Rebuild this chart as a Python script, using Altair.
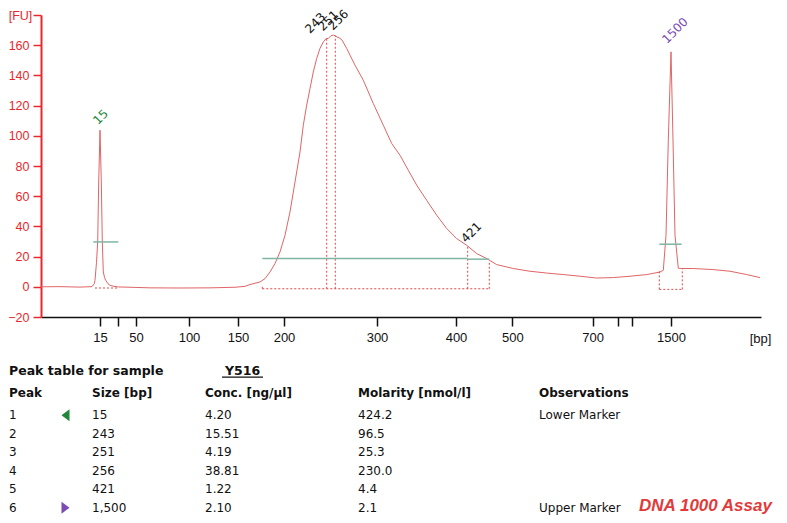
import json
import altair as alt
import pandas as pd

# ---------------- electropherogram trace (migration position, fluorescence [FU]) ----------------
trace_t = [0, 19, 39, 51, 53.3, 54, 55.5, 56.7, 57.7, 59, 60.3, 61.3, 62.3, 63.5, 64.7, 67, 69, 73, 77.3,
           89, 109, 139, 169, 194, 204, 209, 219, 224, 229, 234, 239, 244, 249, 254, 259, 262.3, 265.7,
           269, 272.3, 275.7, 279, 282.3, 285, 287.3, 290, 292.3, 294, 296, 299, 301, 305.7, 309, 314,
           322.3, 332.3, 342.3, 350.7, 359, 367.3, 375.7, 385.7, 395.7, 405.7, 415.7, 425.7, 435.7,
           445.7, 455.7, 472.3, 489, 505.7, 522.3, 539, 555.7, 572.3, 589, 605.7, 619, 622.3, 625,
           627.3, 630, 632, 634, 637.3, 640.7, 652.3, 672.3, 689, 705.7, 719]
trace_fu = [0.0, 0.1, -0.2, 0.1, 2.1, 4.3, 16.2, 29.7, 69.4, 103.7, 69.4, 29.7, 9.8, 6.3, 4.3, 2.0, 1.0, 0.3, -0.1,
            -0.3, -0.7, -0.8, -0.7, -0.3, 0.3, 1.5, 3.2, 5.4, 9.8, 15.4, 23.1, 34.1, 49.6, 69.4, 89.3, 107.0, 120.3,
            131.3, 142.3, 151.2, 157.9, 162.2, 164.3, 164.5, 166.3, 166.7, 166.3, 165.5, 164.5, 163.4, 157.9, 153.4, 146.8,
            136.8, 121.4, 107.0, 94.9, 87.1, 77.2, 67.3, 57.3, 47.4, 38.6, 31.9, 27.5, 22.0,
            18.7, 14.7, 12.1, 10.3, 9.1, 8.1, 7.0, 5.8, 6.1, 7.0, 8.1, 9.8, 10.9, 34.1,
            97.1, 155.6, 97.1, 34.1, 12.3, 12.1, 12.1, 11.4, 10.3, 8.1, 6.1]

# x-axis ticks (migration positions) and their size labels [bp]
tick_t = [59, 77.3, 95, 148, 197, 243, 336, 415, 471.3, 551.7, 577.3, 591.3, 630]
tick_bp = ["15", "", "50", "100", "150", "200", "300", "400", "500", "700", "", "", "1500"]
fu_ticks = [-20, 0, 20, 40, 60, 80, 100, 120, 140, 160, 180]

# peak labels on the trace
peak_label = ["15", "243", "251", "256", "421", "1500"]
peak_kind = ["lower", "sample", "sample", "sample", "sample", "upper"]
peak_label_t = [57, 269, 282, 292, 425, 626]
peak_label_fu = [107.0, 167.5, 169.0, 169.6, 28.8, 160.7]

# dotted peak lines (apex down to baseline)
apex_t = [285.7, 294.3, 426.7]
apex_fu = [164.4, 166.3, 26.8]
apex_base = [-1.3, -1.3, -1.3]
# dotted region baselines
region_start = [54, 221.3, 618.3]
region_end = [77.3, 448.3, 641.3]
region_base = [-0.8, -1.3, -1.7]
# dotted region edges
edge_t = [221.3, 448.3, 618.3, 641.3]
edge_base = [-1.3, -1.3, -1.7, -1.7]
edge_top = [0.5, 16.4, 10.6, 12.2]
# peak width lines (green)
width_start = [52.3, 221.3, 426.7, 618.3]
width_end = [77.3, 426.7, 448.3, 640.7]
width_fu = [29.7, 18.7, 18.3, 28.2]

# ---------------- peak table ----------------
table_title = "Peak table for sample"
sample_name = "Y516"
headers = ["Peak", "Size [bp]", "Conc. [ng/µl]", "Molarity [nmol/l]", "Observations"]
tbl_peak = [1, 2, 3, 4, 5, 6]
tbl_size = ["15", "243", "251", "256", "421", "1,500"]
tbl_conc = [4.20, 15.51, 4.19, 38.81, 1.22, 2.10]
tbl_mol = [424.2, 96.5, 25.3, 230.0, 4.4, 2.1]
tbl_obs = ["Lower Marker", "", "", "", "", "Upper Marker"]
tbl_marker = ["lower", "", "", "", "", "upper"]
assay_name = "DNA 1000 Assay"

# ---------------- styling / layout ----------------
RED = "#e8282c"
TRACE = "#e06565"
DOT = "#e04848"
GREEN_LINE = "#7fb5a3"
GREEN = "#22873a"
PURPLE = "#7b4cb4"
INK = "#111111"
W, H = 720, 302
COL_X = [-32, 51, 164, 317, 498]      # table column left edges (px from plot left)
MARK_X = 24.5
ASSAY_X = 598
SAMPLE_X = 184
ROW0_Y, ROW_STEP = 400.2, 18.5      # px from plot top
HEADER_Y, TITLE_Y = 378, 355.7

xs = alt.Scale(domain=[0, W], nice=False, zero=False)
ys = alt.Scale(domain=[-20, 180], nice=False, zero=False)
ts = alt.Scale(domain=[0, H], nice=False, zero=False, reverse=True)
kind_scale = alt.Scale(domain=["lower", "sample", "upper"], range=[GREEN, INK, PURPLE])

label_expr = f"{json.dumps(tick_bp)}[indexof({json.dumps(tick_t)}, datum.value)]"
X_AXIS = alt.Axis(
    values=tick_t, labelExpr=label_expr, grid=False, labelOverlap=False, labelFlush=False,
    domainColor=INK, domainWidth=1.5, tickColor=INK, tickWidth=1.5, tickSize=9,
    labelColor=INK, labelFont="Liberation Sans", labelFontSize=13, labelPadding=5,
    title="[bp]", titleX=719, titleY=21, titleAlign="center", titleBaseline="middle",
    titleFont="Liberation Sans", titleFontSize=13, titleFontWeight="normal", titleColor=INK)
Y_AXIS = alt.Axis(
    values=fu_ticks, labelExpr="datum.value == 180 ? '' : datum.label", grid=False,
    domainColor=RED, domainWidth=2, tickColor=RED, tickWidth=1.5, tickSize=8,
    labelColor=RED, labelFont="Liberation Sans", labelFontSize=12.5, labelPadding=4,
    title="[FU]", titleAngle=0, titleX=-21, titleY=0, titleAlign="center", titleBaseline="middle",
    titleFont="Liberation Sans", titleFontSize=12.5, titleFontWeight="normal", titleColor=RED)


def X(f):
    return alt.X(f, type="quantitative", scale=xs, axis=X_AXIS)


def Y(f):
    return alt.Y(f, type="quantitative", scale=ys, axis=None)


def TY(f):
    return alt.Y(f, type="quantitative", scale=ts, axis=None)


trace = pd.DataFrame({"t": trace_t, "fu": trace_fu})
curve = alt.Chart(trace).mark_line(color=TRACE, strokeWidth=1).encode(
    x=X("t"),
    y=alt.Y("fu:Q", scale=ys, axis=Y_AXIS),
)

dotted = pd.DataFrame({
    "t": apex_t + region_start + edge_t,
    "t2": apex_t + region_end + edge_t,
    "fu": apex_base + region_base + edge_base,
    "fu2": apex_fu + region_base + edge_top,
})
dotted_layer = alt.Chart(dotted).mark_rule(color=DOT, strokeDash=[2, 2], strokeWidth=1).encode(
    x=X("t"), x2="t2", y=Y("fu"), y2="fu2")

widths = pd.DataFrame({"t": width_start, "t2": width_end, "fu": width_fu})
width_layer = alt.Chart(widths).mark_rule(color=GREEN_LINE, strokeWidth=1.5).encode(
    x=X("t"), x2="t2", y=Y("fu"))

labels = pd.DataFrame({"t": peak_label_t, "fu": peak_label_fu, "label": peak_label, "kind": peak_kind})
label_layer = alt.Chart(labels).mark_text(
    align="left", baseline="alphabetic", angle=315, font="DejaVu Sans", fontSize=12).encode(
    x=X("t"), y=Y("fu"), text="label:N",
    color=alt.Color("kind:N", scale=kind_scale, legend=None))

# ---- table layers ----
row_y = [ROW0_Y + ROW_STEP * i for i in range(len(tbl_peak))]
cells = []
for i in range(len(tbl_peak)):
    vals = [str(tbl_peak[i]), tbl_size[i], f"{tbl_conc[i]:.2f}", f"{tbl_mol[i]:.1f}", tbl_obs[i]]
    for cx, v in zip(COL_X, vals):
        if v:
            cells.append({"t": cx, "row": row_y[i], "text": v})
cells_df = pd.DataFrame(cells)
head_df = pd.DataFrame({"t": COL_X, "row": [HEADER_Y] * len(headers), "text": headers})
title_df = pd.DataFrame({"t": [COL_X[0], SAMPLE_X], "row": [TITLE_Y, TITLE_Y], "text": [table_title, sample_name]})
under_df = pd.DataFrame({"t": [SAMPLE_X - 3], "t2": [SAMPLE_X + 38], "row": [TITLE_Y + 6.5]})
marks = [{"t": MARK_X, "row": row_y[i], "kind": k} for i, k in enumerate(tbl_marker) if k]
marks_df = pd.DataFrame(marks)
assay_df = pd.DataFrame({"t": [ASSAY_X], "row": [row_y[-1] - 1.5], "text": [assay_name]})

cell_layer = alt.Chart(cells_df).mark_text(
    align="left", baseline="middle", font="DejaVu Sans", fontSize=12, color=INK).encode(
    x=X("t"), y=TY("row"), text="text:N")
head_layer = alt.Chart(head_df).mark_text(
    align="left", baseline="middle", font="DejaVu Sans", fontSize=12, fontWeight="bold", color=INK).encode(
    x=X("t"), y=TY("row"), text="text:N")
title_layer = alt.Chart(title_df).mark_text(
    align="left", baseline="middle", font="DejaVu Sans", fontSize=12.5, fontWeight="bold", color=INK).encode(
    x=X("t"), y=TY("row"), text="text:N")
under_layer = alt.Chart(under_df).mark_rule(color=INK, strokeWidth=1.3).encode(
    x=X("t"), x2="t2", y=TY("row"))
LEFT_TRI = "M 0.67 -1 L -0.67 0 L 0.67 1 Z"
RIGHT_TRI = "M -0.67 -1 L 0.67 0 L -0.67 1 Z"
mark_layer = alt.Chart(marks_df).mark_point(filled=True, size=144, opacity=1).encode(
    x=X("t"), y=TY("row"),
    shape=alt.Shape("kind:N", scale=alt.Scale(domain=["lower", "upper"], range=[LEFT_TRI, RIGHT_TRI]), legend=None),
    color=alt.Color("kind:N", scale=kind_scale, legend=None))
assay_layer = alt.Chart(assay_df).mark_text(
    align="left", baseline="middle", font="Liberation Sans", fontSize=17, fontWeight="bold",
    fontStyle="italic", color="#e23a3a").encode(
    x=X("t"), y=TY("row"), text="text:N")

chart = alt.layer(
    curve, dotted_layer, width_layer, label_layer,
    title_layer, under_layer, head_layer, cell_layer, mark_layer, assay_layer,
).resolve_scale(y="independent").properties(
    width=W, height=H,
    padding={"left": 33, "top": 7, "right": 18, "bottom": 200},
    autosize=alt.AutoSizeParams(type="none"),
).configure_view(stroke=None)

chart.save("out.html", embed_options={"renderer": "svg", "actions": False})
